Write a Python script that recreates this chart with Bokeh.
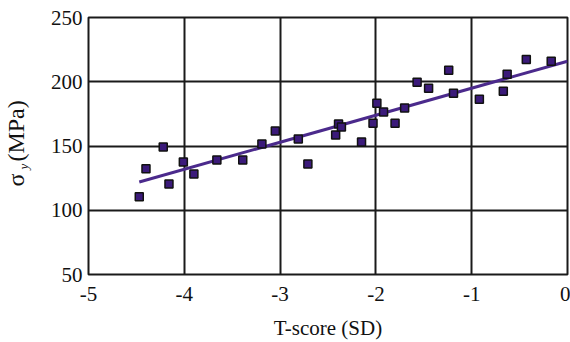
import math
from bokeh.plotting import figure
from bokeh.models import Label, FixedTicker
from bokeh.embed import file_html
from bokeh.resources import INLINE

# data
t_score = [-4.47, -4.40, -4.22, -4.16, -4.01, -3.90, -3.66, -3.39, -3.19, -3.05,
           -2.81, -2.71, -2.42, -2.39, -2.36, -2.15, -2.03, -1.99, -1.92, -1.80,
           -1.70, -1.57, -1.45, -1.24, -1.19, -0.92, -0.67, -0.63, -0.43, -0.17]
sigma_y = [110.5, 132.2, 149.2, 120.5, 137.6, 128.3, 139.1, 139.1, 151.6, 161.6,
           155.4, 136.0, 158.5, 167.1, 164.7, 153.1, 167.8, 183.3, 176.4, 167.8,
           179.5, 199.6, 195.0, 208.9, 191.1, 186.4, 192.6, 205.8, 217.4, 215.9]
fit_x = [-4.47, 0.0]
fit_y = [122.0, 216.0]
x_ticks = [-5, -4, -3, -2, -1, 0]
x_tick_labels = ["-5", "-4", "-3", "-2", "-1", "0"]
y_ticks = [50, 100, 150, 200, 250]
y_title_main = "σ\u00a0\u00a0(MPa)"
y_title_sub = "y"

FONT = "Liberation Serif"

p = figure(width=570, height=342, x_range=(-5, 0), y_range=(50, 250),
           output_backend="svg", toolbar_location=None,
           min_border_left=88, min_border_right=3, min_border_top=17,
           min_border_bottom=67)

p.xaxis.ticker = FixedTicker(ticks=x_ticks)
p.xaxis.major_label_overrides = {t: s for t, s in zip(x_ticks, x_tick_labels)}
p.yaxis.ticker = FixedTicker(ticks=y_ticks)
for ax in (p.xaxis[0], p.yaxis[0]):
    ax.axis_line_color = None
    ax.major_tick_line_color = None
    ax.minor_tick_line_color = None
    ax.major_tick_out = 0
    ax.major_tick_in = 0
    ax.major_label_text_font = FONT
    ax.major_label_text_font_size = "21px"
    ax.major_label_text_color = "#111111"
    ax.axis_label_text_font = FONT
    ax.axis_label_text_font_size = "21px"
    ax.axis_label_text_font_style = "normal"
    ax.axis_label_text_color = "#111111"

p.xaxis.major_label_standoff = 12
p.xaxis.axis_label = "T-score (SD)"
p.xaxis.axis_label_standoff = 12
p.yaxis.major_label_standoff = 6

p.xgrid.grid_line_color = "#1a1a1a"
p.ygrid.grid_line_color = "#1a1a1a"
p.xgrid.grid_line_width = 2
p.ygrid.grid_line_width = 2
p.outline_line_color = "#1a1a1a"
p.outline_line_width = 2

p.line(fit_x, fit_y, line_color="#4b2a8c", line_width=3)
p.scatter(t_score, sigma_y, marker="square", size=8,
          fill_color="#3b1a7a", line_color="#111111", line_width=1.5)

# y axis title: sigma with italic subscript y, then (MPa)
common = dict(angle=math.pi / 2, text_font=FONT, text_color="#111111",
              text_baseline="middle", text_align="left",
              x_units="screen", y_units="screen")
p.add_layout(Label(x=-9, y=105, text=y_title_sub, text_font_size="13px",
                   text_font_style="italic", **common), "left")
p.add_layout(Label(x=9, y=88, text=y_title_main, text_font_size="24px", **common), "left")

open("out.html", "w").write(file_html(p, INLINE))
